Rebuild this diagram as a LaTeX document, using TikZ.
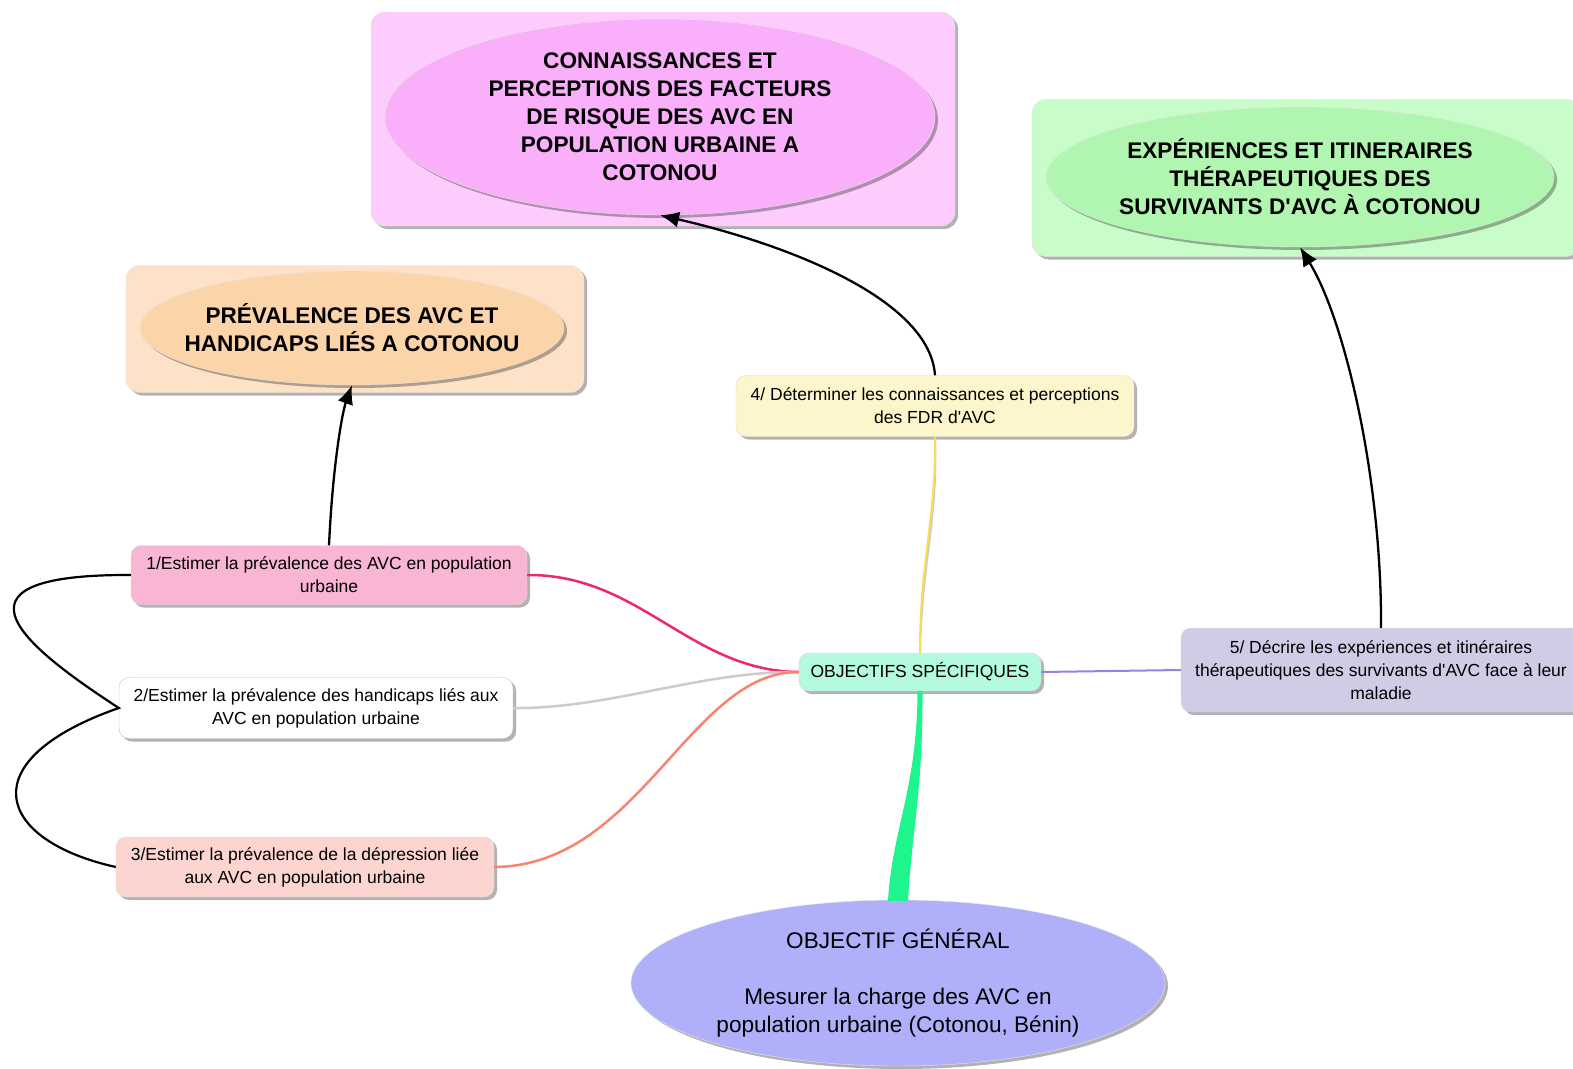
\documentclass[tikz,border=0pt]{standalone}
\usepackage{fontspec}
\setmainfont{Liberation Sans}
\usetikzlibrary{shapes.geometric}
\usetikzlibrary{shadows}
\usetikzlibrary{arrows.meta}
\usetikzlibrary{calc}

\definecolor{pinkframe}{RGB}{253,204,253}
\definecolor{pinkbubble}{RGB}{250,175,250}
\definecolor{greenframe}{RGB}{200,252,200}
\definecolor{greenbubble}{RGB}{176,245,176}
\definecolor{orangeframe}{RGB}{253,226,200}
\definecolor{orangebubble}{RGB}{252,212,170}
\definecolor{taskone}{RGB}{249,181,212}
\definecolor{taskthree}{RGB}{253,213,208}
\definecolor{taskfour}{RGB}{253,246,204}
\definecolor{taskfive}{RGB}{208,204,230}
\definecolor{specfill}{RGB}{180,250,220}
\definecolor{genfill}{RGB}{176,176,250}
\definecolor{magentaline}{RGB}{238,40,110}
\definecolor{salmonline}{RGB}{250,130,110}
\definecolor{lavenderline}{RGB}{150,130,230}
\definecolor{yellowline}{RGB}{250,222,80}
\definecolor{springline}{RGB}{30,245,140}

\begin{document}
\begin{tikzpicture}[x=1pt,y=-1pt,
    softshadow/.style={drop shadow={shadow xshift=3pt,shadow yshift=-3pt,opacity=.3,fill=black}},
    frame/.style={draw=black!12,rounded corners=14pt,inner sep=0pt,softshadow},
    bubble/.style={ellipse,draw=black!10,inner xsep=-40pt,inner ysep=0pt,align=center,softshadow,
        font=\fontsize{22.6}{28}\selectfont\bfseries},
    task/.style={draw=black!15,rounded corners=10pt,inner sep=0pt,align=center,softshadow,
        font=\fontsize{17.5}{23}\selectfont},
    link/.style={line width=2.3pt,-{Latex[length=19pt,width=16pt]}},
    branch/.style={line width=2.5pt}]
    \useasboundingbox (0,0) rectangle (1573,1068);
    \clip (0,0) rectangle (1573,1068);
    \fill[white] (0,0) rectangle (1573,1068);

    % les trois themes
    \node[frame,fill=pinkframe,minimum width=584pt,minimum height=214pt] (pinkbox) at (663,119) {};
    \node[bubble,fill=pinkbubble,minimum width=550pt,minimum height=196pt] (risque) at (660,117)
        {CONNAISSANCES ET\\PERCEPTIONS DES FACTEURS\\DE RISQUE DES AVC EN\\POPULATION URBAINE A\\COTONOU};
    \node[frame,fill=greenframe,minimum width=548pt,minimum height=157pt] (greenbox) at (1306,178) {};
    \node[bubble,fill=greenbubble,minimum width=508pt,minimum height=140pt] (itin) at (1300,177)
        {EXPÉRIENCES ET ITINERAIRES\\THÉRAPEUTIQUES DES\\SURVIVANTS D\textquotesingle AVC À COTONOU};
    \node[frame,fill=orangeframe,minimum width=458pt,minimum height=127pt] (orangebox) at (355,329) {};
    \node[bubble,fill=orangebubble,minimum width=424pt,minimum height=114pt] (preval) at (352,328)
        {PRÉVALENCE DES AVC ET\\HANDICAPS LIÉS A COTONOU};

    % objectifs
    \node[task,fill=taskone,minimum width=396pt,minimum height=59pt] (obj1) at (329,575)
        {1/Estimer la prévalence des AVC en population\\urbaine};
    \node[task,fill=white,draw=black!25,minimum width=394pt,minimum height=61pt] (obj2) at (316,708)
        {2/Estimer la prévalence des handicaps liés aux\\AVC en population urbaine};
    \node[task,fill=taskthree,minimum width=378pt,minimum height=60pt] (obj3) at (305,867)
        {3/Estimer la prévalence de la dépression liée\\aux AVC en population urbaine};
    \node[task,fill=taskfour,minimum width=398pt,minimum height=61pt] (obj4) at (935,406)
        {4/ Déterminer les connaissances et perceptions\\des FDR d\textquotesingle AVC};
    \node[task,fill=taskfive,minimum width=400pt,minimum height=84pt] (obj5) at (1381,670)
        {5/ Décrire les expériences et itinéraires\\thérapeutiques des survivants d\textquotesingle AVC face à leur\\maladie};
    \node[task,fill=specfill,minimum width=242pt,minimum height=38pt] (spec) at (920,672)
        {OBJECTIFS SPÉCIFIQUES};
    \node[ellipse,draw=black!10,fill=genfill,softshadow,inner sep=0pt,align=center,
        minimum width=534pt,minimum height=166pt,font=\fontsize{22.6}{28}\selectfont] (gen) at (898,983)
        {OBJECTIF GÉNÉRAL\\[28pt]Mesurer la charge des AVC en\\population urbaine (Cotonou, Bénin)};

    % branches
    \draw[branch,magentaline] (spec.west) .. controls (690,671) and (640,574) .. (obj1.east);
    \draw[branch,black!20] (spec.west) .. controls (700,671) and (610,709) .. (obj2.east);
    \draw[branch,salmonline] (spec.west) .. controls (690,671) and (640,866) .. (obj3.east);
    \draw[branch,lavenderline,line width=2pt] (spec.east) -- (obj5.west);
    \draw[black!20,line width=2pt,xshift=2pt] (spec.north) .. controls (920,560) and (936,520) .. (obj4.south);
    \draw[yellowline,line width=2pt] (spec.north) .. controls (920,560) and (936,520) .. (obj4.south);
    \fill[springline] ($(spec.south)+(-2.5,0)$) .. controls (917,790) and (892,830) .. ($(gen.north)+(-10,1)$)
        -- ($(gen.north)+(10,1)$) .. controls (912,830) and (923,790) .. ($(spec.south)+(2.5,0)$) -- cycle;

    % boucle a gauche
    \draw[line width=2.2pt] (obj1.west) .. controls (-70,574) and (30,650) .. (obj2.west)
        .. controls (-30,760) and (-5,840) .. (obj3.west);

    % fleches vers les themes
    \draw[link] (obj1.north) .. controls (333,460) and (343,410) .. (preval.south);
    \draw[link] (obj4.north) .. controls (930,300) and (790,245) .. (risque.south);
    \draw[link] (obj5.north) .. controls (1382,480) and (1345,320) .. (itin.south);
\end{tikzpicture}
\end{document}
